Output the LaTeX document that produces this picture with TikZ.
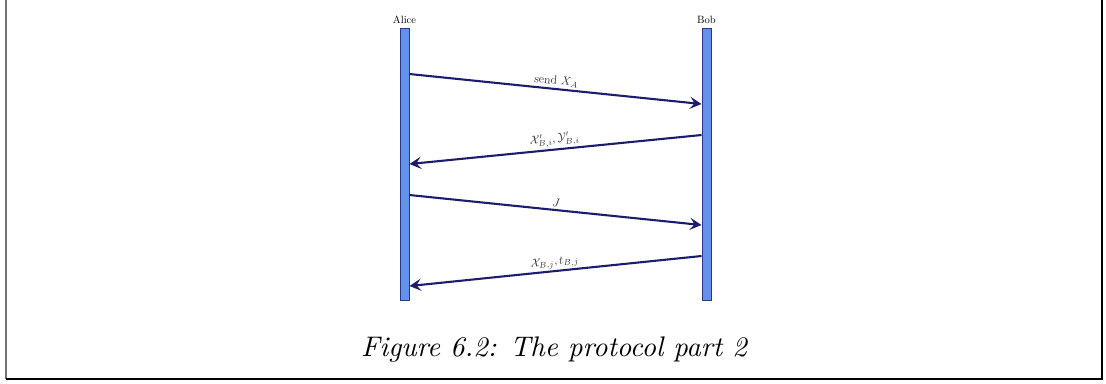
\documentclass[tikz,border=0pt]{standalone}
\usetikzlibrary{arrows.meta}
\definecolor{barfill}{RGB}{100,145,236}
\definecolor{bardraw}{RGB}{40,55,140}
\definecolor{msgcol}{RGB}{28,28,110}
\begin{document}
\begin{tikzpicture}[x=0.36pt,y=-0.36pt,
  lifeline/.style={draw=bardraw,fill=barfill,line width=0.35pt,inner sep=0pt,
    minimum width=3.24pt,minimum height=97.6pt},
  actor/.style={font=\fontsize{10}{12}\selectfont,scale=0.38,inner sep=0pt},
  msg/.style={draw=msgcol,line width=0.75pt,-{Stealth[length=4.2pt,width=4.4pt,inset=1.7pt]}},
  msglabel/.style={font=\fontsize{10}{12}\selectfont,scale=0.42,midway,above,sloped,inner sep=2pt,text=black!80}]
\useasboundingbox (0,0) rectangle (1106,383);
% frame
\draw[black!55,line width=0.6pt] (6,0) -- (6,379);
\draw[black,line width=0.7pt] (6,379) -- (1102,379) -- (1102,0);
% lifelines
\node[lifeline] (alice) at (404.5,164.5) {};
\node[lifeline] (bob) at (706.5,164.5) {};
\node[actor,anchor=base] (alicel) at (404.5,23) {Alice};
\node[actor,anchor=base] (bobl) at (706.5,23) {Bob};
% message end points
\coordinate (a1) at (alice.east |- 0,74);
\coordinate (b1) at (bob.west |- 0,104);
\coordinate (b2) at (bob.west |- 0,135);
\coordinate (a2) at (alice.east |- 0,164);
\coordinate (a3) at (alice.east |- 0,195);
\coordinate (b3) at (bob.west |- 0,225);
\coordinate (b4) at (bob.west |- 0,256);
\coordinate (a4) at (alice.east |- 0,286);
\draw[msg] (a1) -- node[msglabel] {send $X_A$} (b1);
\draw[msg] (b2) -- node[msglabel] {$\mathcal{X}'_{B,i}, \mathcal{Y}'_{B,i}$} (a2);
\draw[msg] (a3) -- node[msglabel] {$J$} (b3);
\draw[msg] (b4) -- node[msglabel] {$\mathcal{X}_{B,j}, t_{B,j}$} (a4);
% caption
\node[font=\fontsize{10.2}{12}\selectfont\itshape,inner sep=0pt] (cap) at (554,350) {Figure 6.2: The protocol part 2};
\end{tikzpicture}
\end{document}
